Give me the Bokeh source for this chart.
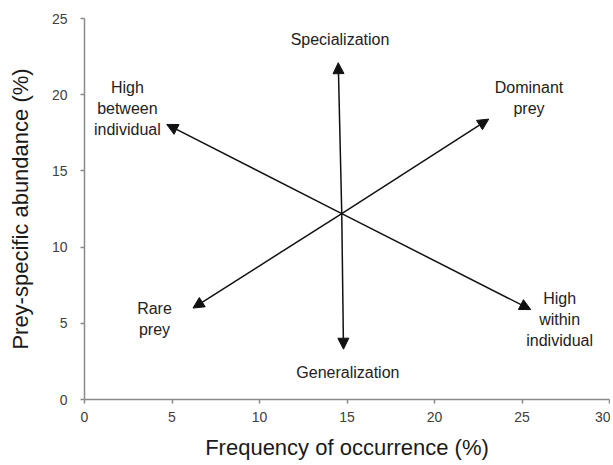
from bokeh.plotting import figure
from bokeh.models import ColumnDataSource, Arrow, NormalHead, FixedTicker, Range1d
from bokeh.core.properties import value
from bokeh.embed import file_html
from bokeh.resources import INLINE

# ---- data ----
x_ticks = [0, 5, 10, 15, 20, 25, 30]
y_ticks = [0, 5, 10, 15, 20, 25]

center_x = 14.7
center_y = 12.2
arrow_names = ["Specialization", "Generalization", "Dominant prey", "Rare prey",
               "High between individual", "High within individual"]
tip_x = [14.5, 14.8, 23.1, 6.2, 4.7, 25.5]
tip_y = [22.1, 3.3, 18.4, 6.0, 18.05, 5.9]

label_texts = ["Specialization", "Generalization", "Dominant\nprey", "Rare\nprey",
               "High\nbetween\nindividual", "High\nwithin\nindividual"]
label_x = [14.6, 15.05, 25.4, 4.0, 2.45, 27.15]
label_y = [23.6, 1.8, 19.8, 5.3, 19.1, 5.26]

x_title = "Frequency of occurrence (%)"
y_title = "Prey-specific abundance (%)"

FONT = "Liberation Sans"

p = figure(width=610, height=462, output_backend="svg", toolbar_location=None,
           x_range=Range1d(0, 30), y_range=Range1d(0, 25),
           min_border_left=84, min_border_right=1, min_border_top=18, min_border_bottom=50)
p.outline_line_color = None
p.grid.visible = False
p.background_fill_color = "white"
p.border_fill_color = "white"

for ax, ticks in ((p.xaxis, x_ticks), (p.yaxis, y_ticks)):
    ax.ticker = FixedTicker(ticks=ticks)
    ax.minor_tick_line_color = None
    ax.axis_line_color = "#8a8a8a"
    ax.axis_line_width = 1.5
    ax.major_tick_line_color = "#8a8a8a"
    ax.major_tick_line_width = 1.5
    ax.major_tick_in = 0
    ax.major_tick_out = 4
    ax.major_label_text_font = FONT
    ax.major_label_text_font_size = "14px"
    ax.major_label_text_color = "#404040"
    ax.axis_label_text_font = FONT
    ax.axis_label_text_font_size = "22px"
    ax.axis_label_text_font_style = "normal"
    ax.axis_label_text_color = "#1a1a1a"

p.xaxis.axis_label = x_title
p.yaxis.axis_label = y_title
p.xaxis.major_label_standoff = 8
p.xaxis.axis_label_standoff = 10
p.yaxis.major_label_standoff = 13
p.yaxis.axis_label_standoff = 16

src = ColumnDataSource(dict(
    xs=[center_x] * len(tip_x), ys=[center_y] * len(tip_y),
    xe=tip_x, ye=tip_y, name=arrow_names))
p.add_layout(Arrow(end=NormalHead(size=11, fill_color="#111111", line_color="#111111", line_width=1),
                   x_start="xs", y_start="ys", x_end="xe", y_end="ye", source=src,
                   line_color="#111111", line_width=1.5))

lsrc = ColumnDataSource(dict(x=label_x, y=label_y, text=label_texts))
p.text(x="x", y="y", text="text", source=lsrc, text_font=value(FONT),
       text_font_size="16px", text_color="#222222", text_align="center",
       text_baseline="middle", text_line_height=1.25)

open("out.html", "w").write(file_html(p, INLINE))
